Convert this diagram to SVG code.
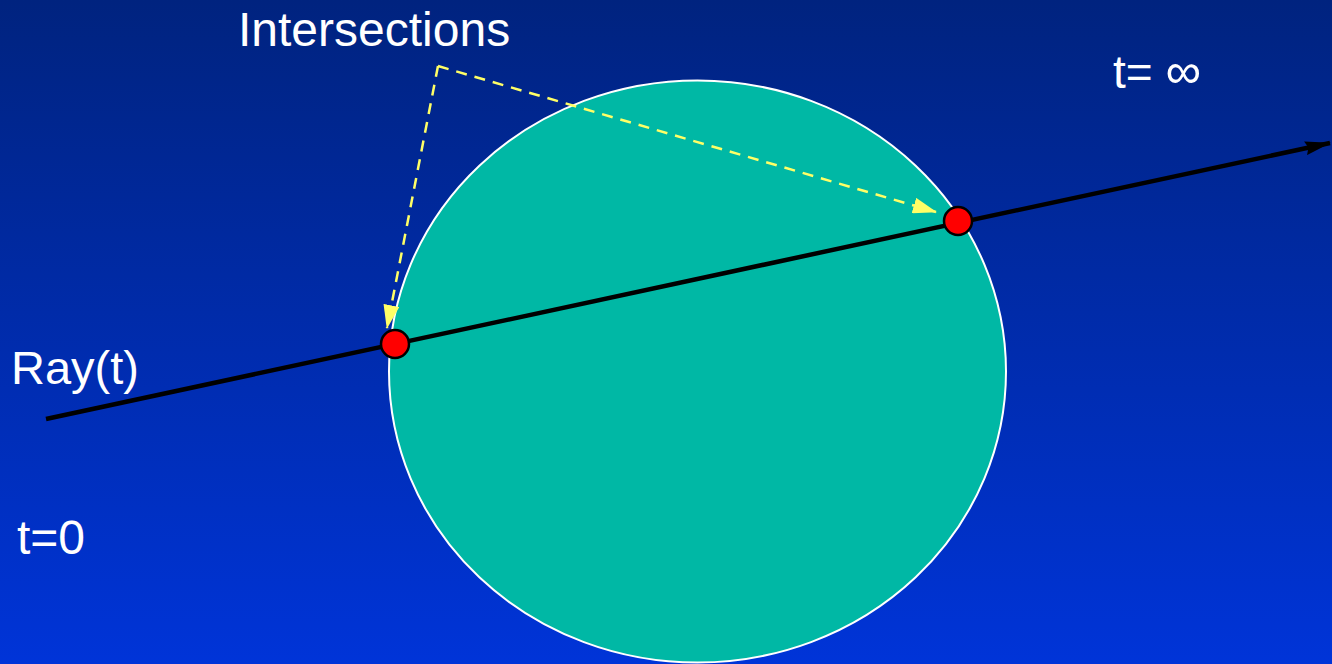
<svg xmlns="http://www.w3.org/2000/svg" width="1332" height="664" viewBox="0 0 1332 664">
<defs>
<linearGradient id="bg" x1="0" y1="0" x2="0" y2="1">
<stop offset="0" stop-color="#00237f"/>
<stop offset="1" stop-color="#0034d8"/>
</linearGradient>
<marker id="ah" viewBox="0 0 26 14" markerWidth="26" markerHeight="14" refX="25" refY="7" orient="auto" markerUnits="userSpaceOnUse">
<path d="M0,0 L26,7 L0,14 L3,7 Z" fill="#000"/>
</marker>
<marker id="yh" viewBox="0 0 24 16" markerWidth="24" markerHeight="16" refX="23" refY="8" orient="auto" markerUnits="userSpaceOnUse">
<path d="M0,0 L24,8 L0,16 Z" fill="#ffff66"/>
</marker>
<style>
.lbl{font-family:"Liberation Sans",Arial,sans-serif;fill:#fff}
.dot{fill:#ff0000;stroke:#000;stroke-width:2.5}
.dash{fill:none;stroke:#ffff66;stroke-width:2.5;stroke-dasharray:11,8}
</style>
</defs>
<rect width="1332" height="664" fill="url(#bg)"/>
<g id="sphere">
<ellipse cx="697.5" cy="371.5" rx="308.5" ry="291" fill="#00b8a5" stroke="#fff" stroke-width="2"/>
</g>
<g id="connectors">
<line x1="46" y1="419" x2="1330" y2="143" stroke="#000" stroke-width="4.5" marker-end="url(#ah)"/>
<polyline class="dash" points="438,66 936,212" marker-end="url(#yh)"/>
<polyline class="dash" points="438,66 387,328" marker-end="url(#yh)"/>
</g>
<g id="p1"><circle class="dot" cx="395" cy="344" r="14"/></g>
<g id="p2"><circle class="dot" cx="958" cy="221" r="14"/></g>
<g id="labels">
<text class="lbl" x="238" y="46" font-size="48">Intersections</text>
<text class="lbl" x="11" y="384" font-size="47">Ray(t)</text>
<text class="lbl" x="17" y="554" font-size="48">t=0</text>
<text class="lbl" x="1113" y="88" font-size="46">t= <tspan font-size="50">∞</tspan></text>
</g>
</svg>
